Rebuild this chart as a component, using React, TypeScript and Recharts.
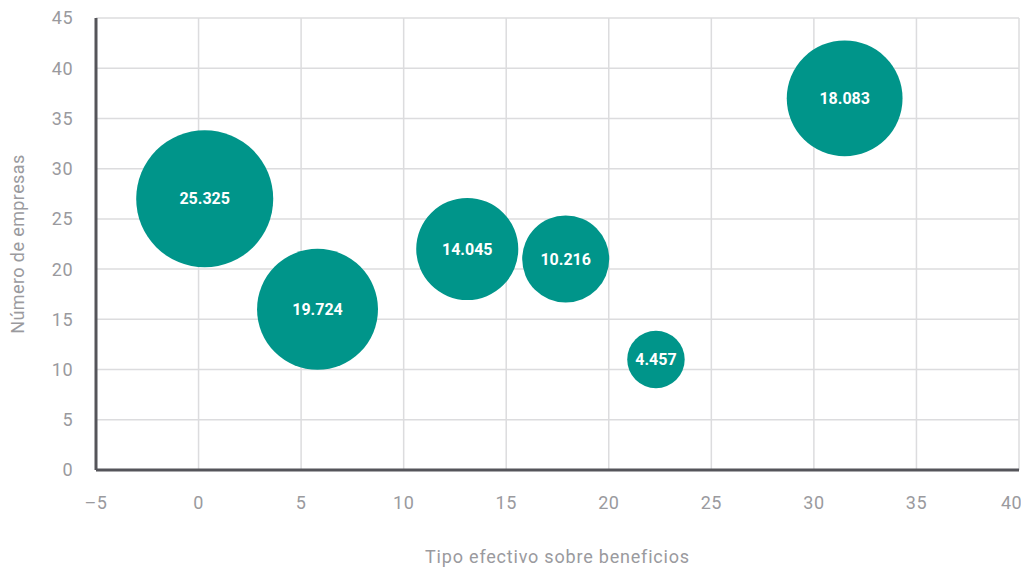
import { ScatterChart, Scatter, XAxis, YAxis, ZAxis, CartesianGrid, LabelList } from 'recharts'

// tipo efectivo (%), número de empresas, tamaño de la burbuja
const tipoEfectivo = [0.3, 5.8, 13.1, 17.9, 22.3, 31.5]
const numEmpresas = [27, 16, 22, 21, 11, 37]
const tamanos = [25325, 19724, 14045, 10216, 4457, 18083]

const xTicks = [-5, 0, 5, 10, 15, 20, 25, 30, 35, 40]
const yTicks = [0, 5, 10, 15, 20, 25, 30, 35, 40, 45]

const data = tipoEfectivo.map((x, i) => ({ x, y: numEmpresas[i], z: tamanos[i] }))

const fmt = (v: any) => String(v).replace(/\B(?=(\d{3})+(?!\d))/g, '.')
const fmtTick = (v: number) => (v < 0 ? '–' + Math.abs(v) : String(v))

const FONT = 'Roboto, "DejaVu Sans", sans-serif'
const TEAL = '#00958a'
const GREY = '#9a9a9e'

export default function App() {
  return (
    <div style={{ position: 'absolute', left: 0, top: 0, width: 1021, height: 567, background: '#fff' }}>
      <ScatterChart width={1021} height={567} margin={{ top: 18, right: 2, bottom: 0, left: 0 }} style={{ fontFamily: FONT }}>
        <CartesianGrid stroke="#dcdcde" strokeWidth={1.5} />
        <XAxis
          type="number"
          dataKey="x"
          domain={[-5, 40]}
          ticks={xTicks}
          tickFormatter={fmtTick}
          height={97}
          tickSize={0}
          tickMargin={26}
          tick={{ fill: GREY, fontSize: 18, letterSpacing: 0.5 }}
          axisLine={{ stroke: '#55555a', strokeWidth: 3 }}
          label={{ value: 'Tipo efectivo sobre beneficios', position: 'insideBottom', offset: 4, fill: GREY, fontSize: 18, style: { letterSpacing: 0.8 } }}
        />
        <YAxis
          type="number"
          dataKey="y"
          domain={[0, 45]}
          ticks={yTicks}
          width={96}
          tickSize={0}
          tickMargin={23}
          tick={{ fill: GREY, fontSize: 18, letterSpacing: 0.5 }}
          axisLine={{ stroke: '#55555a', strokeWidth: 3 }}
          label={{ value: 'Número de empresas', angle: -90, position: 'insideLeft', offset: 18, fill: GREY, fontSize: 18, style: { textAnchor: 'middle', letterSpacing: 0.4 } }}
        />
        <ZAxis type="number" dataKey="z" domain={[0, 25325]} range={[0, 14750]} />
        <Scatter data={data} fill={TEAL} isAnimationActive={false}>
          <LabelList dataKey="z" position="center" formatter={fmt} fill="#fff" fontSize={16} fontWeight="bold" />
        </Scatter>
      </ScatterChart>
    </div>
  )
}
